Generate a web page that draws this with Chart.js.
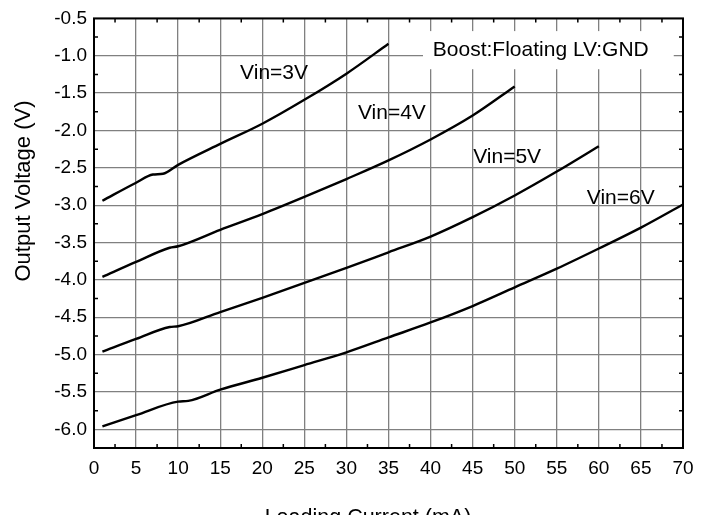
<!DOCTYPE html>
<html>
<head>
<meta charset="utf-8">
<script src="https://cdn.jsdelivr.net/npm/chart.js@4.4.1/dist/chart.umd.min.js"></script>
<style>
  body { margin: 0; background: #fff; }
  #wrap { width: 707px; height: 515px; position: relative; }
</style>
</head>
<body>
<div id="wrap"><canvas id="chart"></canvas></div>
<script>
// load current (mA) and output voltage (V)
const load3 = [1, 5, 7, 8.2, 10, 15, 20, 25, 30, 35];
const vout3 = [-2.94, -2.70, -2.59, -2.58, -2.46, -2.18, -1.91, -1.59, -1.24, -0.84];

const load4 = [1, 5, 9, 10, 15, 20, 25, 30, 35, 40, 45, 50];
const vout4 = [-3.96, -3.76, -3.57, -3.55, -3.33, -3.12, -2.89, -2.65, -2.40, -2.12, -1.80, -1.41];

const load5 = [1, 5, 9, 10, 15, 20, 25, 30, 35, 40, 45, 50, 55, 60];
const vout5 = [-4.96, -4.79, -4.63, -4.62, -4.43, -4.24, -4.04, -3.84, -3.63, -3.42, -3.16, -2.87, -2.55, -2.21];

const load6 = [1, 5, 10, 11.2, 15, 20, 25, 30, 35, 40, 45, 50, 55, 60, 65, 70];
const vout6 = [-5.96, -5.81, -5.63, -5.62, -5.47, -5.31, -5.14, -4.97, -4.77, -4.57, -4.35, -4.10, -3.85, -3.58, -3.30, -2.99];

const seriesNames = ['Vin=3V', 'Vin=4V', 'Vin=5V', 'Vin=6V'];
const xTicks = [0, 5, 10, 15, 20, 25, 30, 35, 40, 45, 50, 55, 60, 65, 70];
const yTicks = [-6.0, -5.5, -5.0, -4.5, -4.0, -3.5, -3.0, -2.5, -2.0, -1.5, -1.0, -0.5];
const xTitle = 'Loading Current (mA)';
const yTitle = 'Output Voltage (V)';
const note = 'Boost:Floating LV:GND';

const FONT = "'Liberation Sans', Arial, sans-serif";

const toPoints = (xs, ys) => xs.map((x, i) => ({ x, y: ys[i] }));
const series = [
  toPoints(load3, vout3),
  toPoints(load4, vout4),
  toPoints(load5, vout5),
  toPoints(load6, vout6),
];

const decor = {
  id: 'decor',
  beforeDatasetsDraw(chart) {
    const { ctx, chartArea: a, scales } = chart;
    const x = scales.x, y = scales.y;
    ctx.save();
    // white box behind the note
    ctx.fillStyle = '#fff';
    ctx.fillRect(x.getPixelForValue(39.1), y.getPixelForValue(-0.67),
      x.getPixelForValue(68.9) - x.getPixelForValue(39.1),
      y.getPixelForValue(-1.18) - y.getPixelForValue(-0.67));
    ctx.fillStyle = '#000';
    ctx.font = '21px ' + FONT;
    ctx.textAlign = 'center';
    ctx.textBaseline = 'middle';
    ctx.fillText(note, x.getPixelForValue(53.1), y.getPixelForValue(-0.92));
    // minor ticks
    ctx.strokeStyle = '#000';
    ctx.lineWidth = 1.5;
    ctx.beginPath();
    for (let v = 2.5; v < 70; v += 5) {
      const px = x.getPixelForValue(v);
      ctx.moveTo(px, a.bottom); ctx.lineTo(px, a.bottom - 4);
      ctx.moveTo(px, a.top); ctx.lineTo(px, a.top + 4);
    }
    for (let v = -6.25; v < -0.5; v += 0.5) {
      const py = y.getPixelForValue(v);
      ctx.moveTo(a.left, py); ctx.lineTo(a.left + 4, py);
      ctx.moveTo(a.right, py); ctx.lineTo(a.right - 4, py);
    }
    ctx.stroke();
    ctx.restore();
  },
  afterDraw(chart) {
    const { ctx, chartArea: a, scales } = chart;
    const x = scales.x, y = scales.y;
    ctx.save();
    ctx.strokeStyle = '#000';
    ctx.lineWidth = 2;
    ctx.strokeRect(a.left, a.top, a.right - a.left, a.bottom - a.top);

    ctx.fillStyle = '#000';
    ctx.font = '21px ' + FONT;
    ctx.textAlign = 'center';
    ctx.textBaseline = 'middle';
    const spots = [[21.4, -1.24], [35.4, -1.77], [49.1, -2.36], [62.6, -2.91]];
    seriesNames.forEach((n, i) => {
      ctx.fillText(n, x.getPixelForValue(spots[i][0]), y.getPixelForValue(spots[i][1]));
    });

    ctx.font = '21.5px ' + FONT;
    ctx.textBaseline = 'alphabetic';
    ctx.fillText(xTitle, 368, 524);
    ctx.translate(30, 191);
    ctx.rotate(-Math.PI / 2);
    ctx.font = '22px ' + FONT;
    ctx.fillText(yTitle, 0, 0);
    ctx.restore();
  }
};

new Chart(document.getElementById('chart'), {
  type: 'line',
  data: {
    datasets: series.map((pts, i) => ({
      label: seriesNames[i],
      data: pts,
      borderColor: '#000',
      borderWidth: 2.4,
      pointRadius: 0,
      cubicInterpolationMode: 'monotone',
      fill: false,
    })),
  },
  options: {
    responsive: true,
    maintainAspectRatio: false,
    animation: false,
    layout: { padding: { top: 15, right: 24, left: 0, bottom: 0 } },
    plugins: {
      legend: { display: false },
      tooltip: { enabled: false },
    },
    scales: {
      x: {
        type: 'linear',
        min: 0,
        max: 70,
        afterBuildTicks: (s) => { s.ticks = xTicks.map((v) => ({ value: v })); },
        afterFit: (s) => { s.height = 67; },
        grid: { color: '#808080', lineWidth: 1.3, drawTicks: false },
        border: { display: false },
        ticks: {
          color: '#000',
          padding: 9,
          maxRotation: 0,
          font: { family: FONT, size: 19 },
          callback: (v) => String(v),
        },
      },
      y: {
        type: 'linear',
        min: -6.25,
        max: -0.5,
        afterBuildTicks: (s) => { s.ticks = yTicks.map((v) => ({ value: v })); },
        afterFit: (s) => { s.width = 94; },
        grid: { color: '#808080', lineWidth: 1.3, drawTicks: false },
        border: { display: false },
        ticks: {
          color: '#000',
          padding: 7,
          font: { family: FONT, size: 19 },
          callback: (v) => v.toFixed(1),
        },
      },
    },
  },
  plugins: [decor],
});
</script>
</body>
</html>
